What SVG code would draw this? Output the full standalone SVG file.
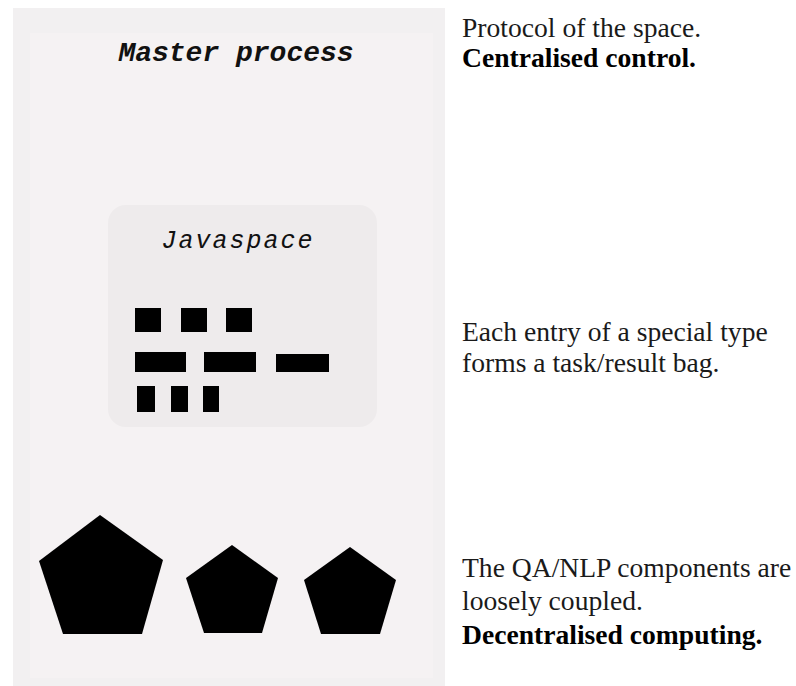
<svg xmlns="http://www.w3.org/2000/svg" width="796" height="686" viewBox="0 0 796 686">
  <style>
    .mono { font-family: "Liberation Mono", "DejaVu Sans Mono", monospace; font-style: italic; fill: #111; }
    .note { font-family: "Liberation Serif", "Times New Roman", serif; font-size: 27.6px; fill: #1a1a1a; }
    .bold { font-weight: bold; fill: #000; }
    .entry { fill: #000; }
    .comp { fill: #000; }
  </style>

  <rect x="0" y="0" width="796" height="686" fill="#ffffff"/>

  <!-- master process panel -->
  <g id="master">
    <rect x="13" y="8" width="432" height="678" fill="#f2f0f1"/>
    <rect x="30" y="33" width="403" height="645" fill="#f5f2f3"/>
    <text class="mono" x="236" y="61" font-size="28" font-weight="bold" text-anchor="middle">Master process</text>
  </g>

  <!-- javaspace with its entries -->
  <g id="javaspace">
    <rect x="108" y="205" width="269" height="222" rx="18" ry="18" fill="#eeebec"/>
    <text class="mono" x="238" y="248" font-size="25" letter-spacing="2" text-anchor="middle">Javaspace</text>
    <g id="entries">
      <rect class="entry" x="135" y="308" width="26" height="24"/>
      <rect class="entry" x="181" y="308" width="26" height="24"/>
      <rect class="entry" x="226" y="308" width="26" height="24"/>
      <rect class="entry" x="135" y="352" width="51" height="20"/>
      <rect class="entry" x="204" y="352" width="52" height="20"/>
      <rect class="entry" x="276" y="354" width="53" height="18"/>
      <rect class="entry" x="137" y="386" width="18" height="26"/>
      <rect class="entry" x="171" y="386" width="17" height="26"/>
      <rect class="entry" x="203" y="386" width="16" height="26"/>
    </g>
  </g>

  <!-- QA/NLP components -->
  <g id="component-1">
    <polygon class="comp" points="100,515 163,560 142,634 63,634 39,561"/>
  </g>
  <g id="component-2">
    <polygon class="comp" points="232,545 278,578 262,633 204,633 186,578"/>
  </g>
  <g id="component-3">
    <polygon class="comp" points="350,547 396,580 380,634 321,634 304,580"/>
  </g>

  <!-- annotations -->
  <g id="note-protocol">
    <text class="note" x="462" y="37">Protocol of the space.</text>
    <text class="note bold" x="462" y="67">Centralised control.</text>
  </g>
  <g id="note-entries">
    <text class="note" x="462" y="341">Each entry of a special type</text>
    <text class="note" x="462" y="372">forms a task/result bag.</text>
  </g>
  <g id="note-components">
    <text class="note" x="462" y="577">The QA/NLP components are</text>
    <text class="note" x="462" y="610">loosely coupled.</text>
    <text class="note bold" x="462" y="644">Decentralised computing.</text>
  </g>

  <g id="connectors"/>
</svg>
